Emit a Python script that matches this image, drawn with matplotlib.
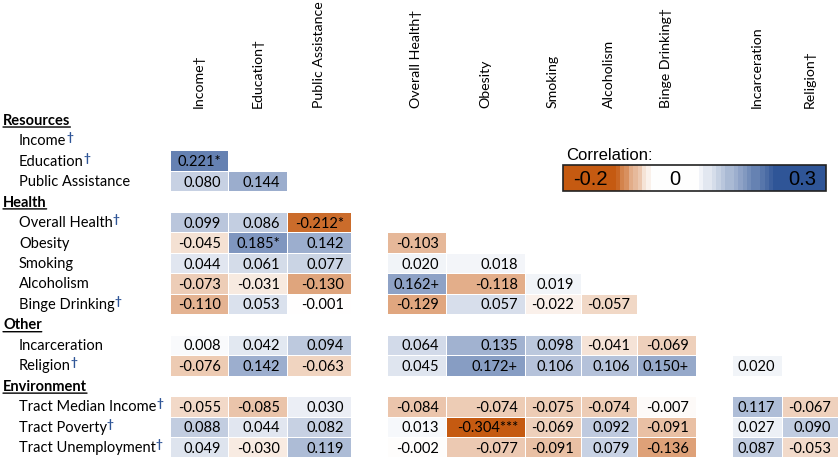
import numpy as np
import matplotlib.pyplot as plt
from matplotlib.colors import LinearSegmentedColormap, TwoSlopeNorm

# ---- data ----
col_labels = ['Income†', 'Education†', 'Public Assistance', 'Overall Health†',
              'Obesity', 'Smoking', 'Alcoholism', 'Binge Drinking†',
              'Incarceration', 'Religion†']

groups = ['Resources', 'Health', 'Other', 'Environment']
group_rows = [
    ['Income', 'Education', 'Public Assistance'],
    ['Overall Health', 'Obesity', 'Smoking', 'Alcoholism', 'Binge Drinking'],
    ['Incarceration', 'Religion'],
    ['Tract Median Income', 'Tract Poverty', 'Tract Unemployment'],
]
dagger_rows = ['Income', 'Education', 'Overall Health', 'Binge Drinking',
               'Religion', 'Tract Median Income', 'Tract Poverty',
               'Tract Unemployment']

# correlation cells (text as printed, None = empty)
cells = {
    'Income':              [None] * 10,
    'Education':           ['0.221*'] + [None] * 9,
    'Public Assistance':   ['0.080', '0.144'] + [None] * 8,
    'Overall Health':      ['0.099', '0.086', '-0.212*'] + [None] * 7,
    'Obesity':             ['-0.045', '0.185*', '0.142', '-0.103'] + [None] * 6,
    'Smoking':             ['0.044', '0.061', '0.077', '0.020', '0.018'] + [None] * 5,
    'Alcoholism':          ['-0.073', '-0.031', '-0.130', '0.162+', '-0.118', '0.019'] + [None] * 4,
    'Binge Drinking':      ['-0.110', '0.053', '-0.001', '-0.129', '0.057', '-0.022', '-0.057'] + [None] * 3,
    'Incarceration':       ['0.008', '0.042', '0.094', '0.064', '0.135', '0.098', '-0.041', '-0.069', None, None],
    'Religion':            ['-0.076', '0.142', '-0.063', '0.045', '0.172+', '0.106', '0.106', '0.150+', '0.020', None],
    'Tract Median Income': ['-0.055', '-0.085', '0.030', '-0.084', '-0.074', '-0.075', '-0.074', '-0.007', '0.117', '-0.067'],
    'Tract Poverty':       ['0.088', '0.044', '0.082', '0.013', '-0.304***', '-0.069', '0.092', '-0.091', '0.027', '0.090'],
    'Tract Unemployment':  ['0.049', '-0.030', '0.119', '-0.002', '-0.077', '-0.091', '0.079', '-0.136', '0.087', '-0.053'],
}

# ---- layout (pixels) ----
x_edges = [170, 228, 287, 351, 387, 446, 525, 581, 637, 696, 732, 782, 838]
gap_cols = [3, 9]
row_top = 110.5
row_h = 20.47

cmap = LinearSegmentedColormap.from_list('corr', ['#C55A11', '#FFFFFF', '#2F5597'])
norm = TwoSlopeNorm(vmin=-0.24, vcenter=0, vmax=0.3)
font = 'Lato'
fs = 10.5
blue = '#2F5597'

fig = plt.figure(figsize=(8.4, 4.6), dpi=100)
ax = fig.add_axes([0, 0, 1, 1])
ax.set_xlim(0, 840)
ax.set_ylim(460, 0)
ax.axis('off')

# build row order (headers included)
row_names = []
for g, rows in zip(groups, group_rows):
    row_names.append(('header', g))
    for r in rows:
        row_names.append(('row', r))

# map data columns to layout columns (skip gaps)
layout_cols = [i for i in range(len(x_edges) - 1) if i not in gap_cols]

Z = np.full((len(row_names), len(x_edges) - 1), np.nan)
for i, (kind, name) in enumerate(row_names):
    if kind != 'row':
        continue
    for j, s in enumerate(cells[name]):
        if s is not None:
            Z[i, layout_cols[j]] = float(s.rstrip('*+'))

y_edges = row_top + row_h * np.arange(len(row_names) + 1)
ax.pcolormesh(x_edges, y_edges, np.ma.masked_invalid(Z), cmap=cmap, norm=norm,
              edgecolors='white', linewidth=0.4)

# cell text
for i, (kind, name) in enumerate(row_names):
    yc = row_top + row_h * (i + 0.5)
    if kind == 'header':
        t = ax.text(3, yc, name, ha='left', va='center', fontsize=fs,
                    fontweight='bold', family=font)
        ax.annotate('', xy=(0, -0.02), xycoords=t, xytext=(1, -0.02), textcoords=t,
                    arrowprops=dict(arrowstyle='-', lw=1.0, color='black',
                                    shrinkA=0, shrinkB=0))
        continue
    t = ax.text(19, yc, name, ha='left', va='center', fontsize=fs, family=font)
    if name in dagger_rows:
        ax.annotate('†', xy=(1, 0.75), xycoords=t, ha='left', va='center',
                    fontsize=fs - 2, color=blue, family=font, fontweight='bold')
    for j, s in enumerate(cells[name]):
        if s is None:
            continue
        c = layout_cols[j]
        ax.text(x_edges[c + 1] - 7, yc + 0.5, s, ha='right', va='center',
                fontsize=fs, family=font)

# column labels
for j, lab in enumerate(col_labels):
    c = layout_cols[j]
    xc = (x_edges[c] + x_edges[c + 1]) / 2
    ax.text(xc, 108, lab, rotation=90, ha='center', va='bottom',
            fontsize=10.2, family=font)

# legend strip
lx0, lx1, ly0, ly1 = 563, 826, 166, 192
pos = np.linspace(0, 1, 60)
leg_vals = np.interp(pos, [0, 0.19, 0.33, 0.51, 0.82, 1.0],
                     [-0.24, -0.24, 0, 0, 0.3, 0.3])
steps = np.round(leg_vals / 0.02) * 0.02
ax.imshow(steps[None, :], cmap=cmap, norm=norm, aspect='auto',
          extent=(lx0, lx1, ly1, ly0), interpolation='nearest', zorder=2)
ax.add_patch(plt.Rectangle((lx0, ly0), lx1 - lx0, ly1 - ly0, fill=False,
                           edgecolor='#222222', lw=1.2, zorder=3))
ax.text(lx0 + 3, ly0 - 3, 'Correlation:', ha='left', va='bottom',
        fontsize=12, family='Liberation Sans')
ax.text(590, (ly0 + ly1) / 2 + 1, '-0.2', ha='center', va='center',
        fontsize=14.5, family='Liberation Sans', zorder=4)
ax.text(675, (ly0 + ly1) / 2 + 1, '0', ha='center', va='center',
        fontsize=14.5, family='Liberation Sans', zorder=4)
ax.text(802, (ly0 + ly1) / 2 + 1, '0.3', ha='center', va='center',
        fontsize=14.5, family='Liberation Sans', zorder=4)
ax.set_xlim(0, 840)
ax.set_ylim(460, 0)

fig.savefig('out.png', dpi=100)
